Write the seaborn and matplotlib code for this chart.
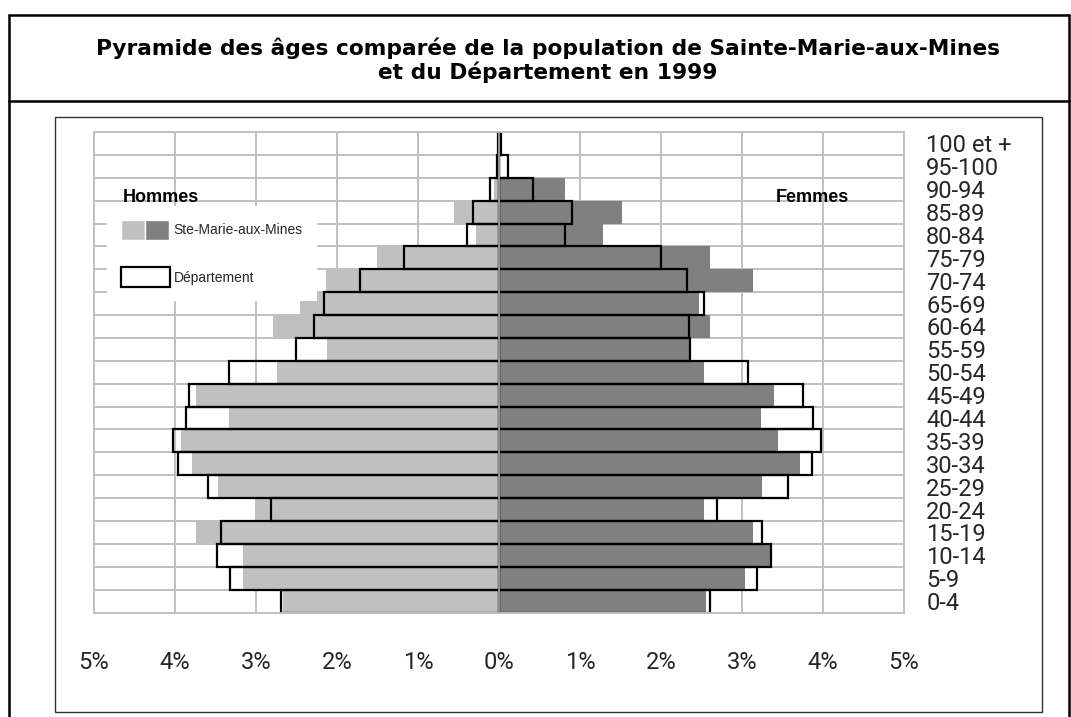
import matplotlib
matplotlib.use("Agg")
import matplotlib.pyplot as plt
from matplotlib.patches import Patch, Rectangle
from matplotlib.lines import Line2D
from matplotlib.legend_handler import HandlerTuple
import seaborn as sns
import pandas as pd
import numpy as np

# age groups, bottom to top
ages = ["0-4", "5-9", "10-14", "15-19", "20-24", "25-29", "30-34", "35-39",
        "40-44", "45-49", "50-54", "55-59", "60-64", "65-69", "70-74",
        "75-79", "80-84", "85-89", "90-94", "95-100", "100 et +"]

# % of population, Ste-Marie-aux-Mines
men_sm = [2.67, 3.16, 3.16, 3.74, 3.01, 3.47, 3.79, 3.93, 3.33, 3.74, 2.74,
          2.12, 2.79, 2.46, 2.14, 1.51, 0.28, 0.56, 0.06, 0.0, 0.0]
women_sm = [2.56, 3.04, 3.35, 3.14, 2.53, 3.25, 3.71, 3.44, 3.23, 3.39, 2.53,
            2.35, 2.61, 2.47, 3.14, 2.60, 1.29, 1.52, 0.81, 0.0, 0.0]

# % of population, Département
men_dep = [2.69, 3.32, 3.48, 3.43, 2.81, 3.59, 3.96, 4.02, 3.86, 3.83, 3.33,
           2.51, 2.28, 2.16, 1.72, 1.17, 0.39, 0.32, 0.11, 0.02, 0.01]
women_dep = [2.60, 3.18, 3.36, 3.25, 2.69, 3.57, 3.86, 3.97, 3.88, 3.75, 3.08,
             2.36, 2.35, 2.53, 2.32, 2.00, 0.82, 0.90, 0.42, 0.11, 0.03]

x_ticks = [-5, -4, -3, -2, -1, 0, 1, 2, 3, 4, 5]

df = pd.DataFrame({
    "age": ages,
    "men_sm": -np.array(men_sm),
    "women_sm": women_sm,
    "men_dep": -np.array(men_dep),
    "women_dep": women_dep,
})
order = ages[::-1]

sns.set_style("white")
plt.rcParams["font.family"] = ["Liberation Sans", "DejaVu Sans"]
narrow, narrow_size = ["Roboto", "DejaVu Sans"], 17

W, H = 1071, 717
fig = plt.figure(figsize=(W / 100, H / 100), dpi=100)
ax = fig.add_axes([94 / W, 1 - 612.5 / H, (904 - 94) / W, (612.5 - 132) / H])

light, dark, grid_c = "#C0C0C0", "#808080", "#C0C0C0"

sns.barplot(data=df, x="men_sm", y="age", order=order, orient="h", width=1.0,
            color=light, linewidth=0, errorbar=None, ax=ax)
sns.barplot(data=df, x="women_sm", y="age", order=order, orient="h", width=1.0,
            color=dark, linewidth=0, errorbar=None, ax=ax)
sns.barplot(data=df, x="men_dep", y="age", order=order, orient="h", width=1.0,
            color="black", fill=False, linewidth=1.6, errorbar=None, ax=ax)
sns.barplot(data=df, x="women_dep", y="age", order=order, orient="h", width=1.0,
            color="black", fill=False, linewidth=1.6, errorbar=None, ax=ax)

ax.set_xlim(-5, 5)
ax.set_ylim(len(ages) - 0.5, -0.5)
ax.axvline(0, color="#A0A0A0", lw=1.3, zorder=5)

# grid
ax.set_axisbelow(True)
ax.set_xticks(x_ticks)
ax.set_xticklabels([f"{abs(v)}%" for v in x_ticks], family=narrow,
                   fontsize=narrow_size)
ax.set_yticks(np.arange(-0.5, len(ages)), minor=True)
ax.grid(axis="x", which="major", color=grid_c, lw=1.4)
ax.grid(axis="y", which="minor", color=grid_c, lw=1.4)
ax.yaxis.tick_right()
ax.set_yticks(range(len(order)))
ax.set_yticklabels(order, family=narrow, fontsize=narrow_size)
ax.tick_params(axis="x", length=0, pad=28)
ax.tick_params(axis="y", which="both", length=0, pad=16)
ax.set_xlabel("")
ax.set_ylabel("")
for s in ax.spines.values():
    s.set_color(grid_c)
    s.set_linewidth(1.4)

# frames
fig.add_artist(Line2D([8.5 / W, 8.5 / W], [0, 1 - 14.5 / H], color="black",
                      lw=1.8, transform=fig.transFigure))
fig.add_artist(Line2D([1068.5 / W, 1068.5 / W], [0, 1 - 14.5 / H], color="black",
                      lw=1.8, transform=fig.transFigure))
fig.add_artist(Line2D([8.5 / W, 1068.5 / W], [1 - 14.5 / H, 1 - 14.5 / H],
                      color="black", lw=1.8, transform=fig.transFigure))
fig.add_artist(Line2D([8.5 / W, 1068.5 / W], [1 - 101 / H, 1 - 101 / H],
                      color="black", lw=1.8, transform=fig.transFigure))
fig.add_artist(Rectangle((55 / W, 1 - 711.5 / H), (1042 - 55) / W, (711.5 - 117) / H,
                         fill=False, edgecolor="#333333", lw=1.0,
                         transform=fig.transFigure))

fig.text(548 / W, 1 - 60 / H,
         "Pyramide des âges comparée de la population de Sainte-Marie-aux-Mines\n"
         "et du Département en 1999",
         ha="center", va="center", fontsize=15.7, fontweight="bold",
         family=["DejaVu Sans"], color="black", linespacing=1.15)

# legend
handles = [(Patch(facecolor=light), Patch(facecolor=dark)),
           Patch(facecolor="white", edgecolor="black", lw=1.6)]
leg = ax.legend(handles, ["Ste-Marie-aux-Mines", "Département"],
                handler_map={tuple: HandlerTuple(ndivide=None, pad=0)},
                loc="upper left", bbox_to_anchor=(107 / W, 1 - 206 / H),
                bbox_transform=fig.transFigure, borderaxespad=0, borderpad=1.0,
                fontsize=10, handlelength=3.5, handleheight=1.8,
                labelspacing=2.0, handletextpad=0.3, frameon=True,
                framealpha=1, fancybox=False)
leg.get_frame().set_edgecolor("white")
leg.get_frame().set_linewidth(0)
leg.set_zorder(6)

fig.text(123 / W, 1 - 198 / H, "Hommes", ha="left", va="center",
         fontsize=13, fontweight="bold", color="black", zorder=10)
fig.text(776 / W, 1 - 198 / H, "Femmes", ha="left", va="center",
         fontsize=13, fontweight="bold", color="black", zorder=10)

fig.savefig("out.png", dpi=100)
